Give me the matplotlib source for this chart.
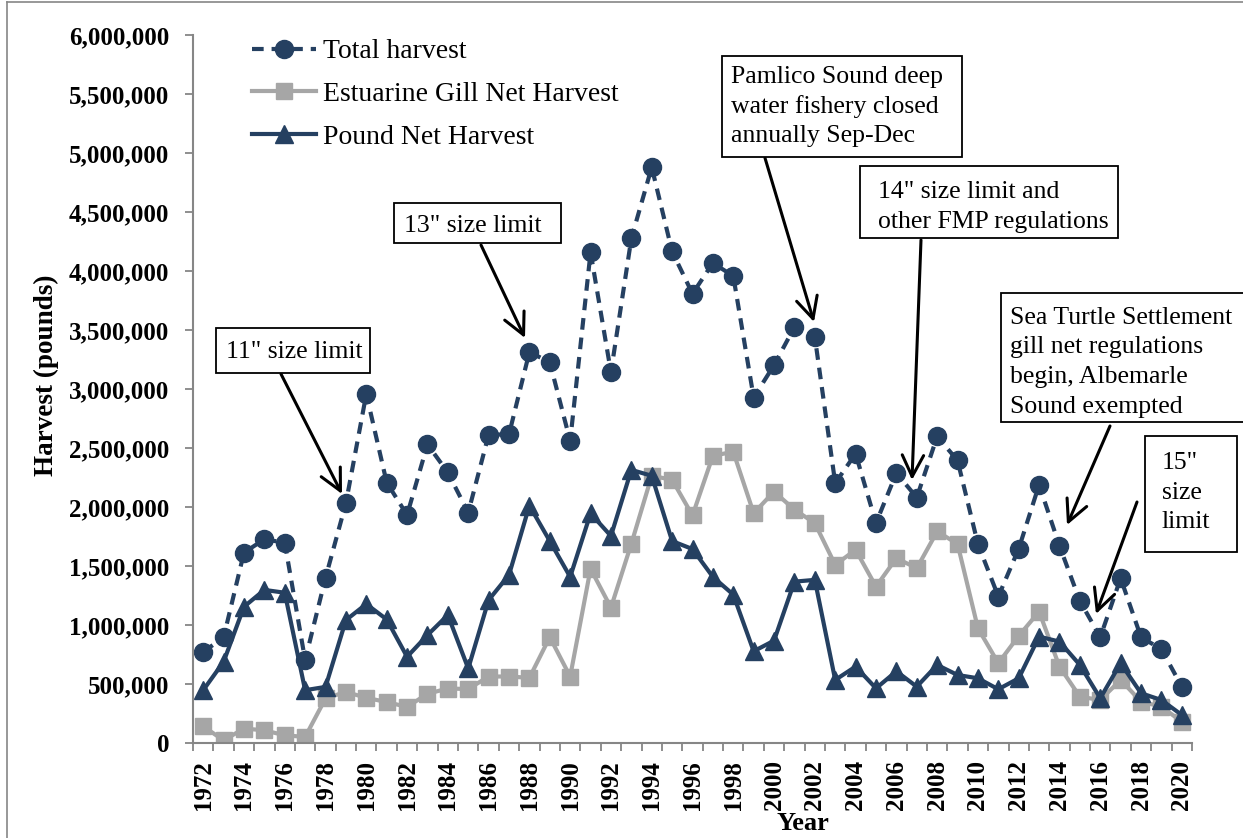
import matplotlib
matplotlib.use("Agg")
import matplotlib.pyplot as plt
from matplotlib.ticker import FuncFormatter, MultipleLocator, FixedLocator
from matplotlib.patches import Rectangle
from matplotlib.lines import Line2D

plt.rcParams['font.family'] = ['Liberation Serif', 'DejaVu Serif']

# harvest in pounds, 1972-2020
years = list(range(1972, 2021))
total = [775000, 897000, 1616000, 1729000, 1700000, 705000, 1403000, 2035000, 2960000, 2210000,
         1935000, 2533000, 2295000, 1955000, 2615000, 2618000, 3316000, 3229000, 2562000, 4161000,
         3145000, 4278000, 4882000, 4168000, 3810000, 4070000, 3960000, 2930000, 3205000, 3527000,
         3443000, 2205000, 2454000, 1866000, 2290000, 2083000, 2600000, 2397000, 1688000, 1244000,
         1648000, 2191000, 1673000, 1207000, 899000, 1399000, 899000, 797000, 480000]
gill = [144000, 25000, 125000, 110000, 68000, 54000, 380000, 436000, 385000, 350000,
        308000, 420000, 464000, 460000, 566000, 566000, 555000, 900000, 566000, 1479000,
        1150000, 1691000, 2267000, 2233000, 1931000, 2437000, 2470000, 1950000, 2133000, 1980000,
        1866000, 1512000, 1640000, 1328000, 1569000, 1484000, 1795000, 1690000, 975000, 679000,
        910000, 1116000, 650000, 395000, 367000, 537000, 353000, 310000, 183000]
pound = [450000, 690000, 1157000, 1300000, 1276000, 450000, 478000, 1044000, 1180000, 1050000,
         733000, 917000, 1087000, 634000, 1214000, 1427000, 2015000, 1714000, 1410000, 1948000,
         1757000, 2317000, 2267000, 1714000, 1646000, 1410000, 1260000, 780000, 870000, 1370000,
         1385000, 537000, 650000, 466000, 610000, 480000, 664000, 579000, 551000, 458000,
         551000, 904000, 862000, 664000, 382000, 679000, 424000, 367000, 240000]

series_names = ['Total harvest', 'Estuarine Gill Net Harvest', 'Pound Net Harvest']

notes = ['11" size limit', '13" size limit',
         'Pamlico Sound deep\nwater fishery closed\nannually Sep-Dec',
         '14" size limit and\nother FMP regulations',
         'Sea Turtle Settlement\ngill net regulations\nbegin, Albemarle\nSound exempted',
         '15"\nsize\nlimit']

NAVY = '#254061'
GRAY = '#A6A6A6'
AXGRAY = '#868686'

W, H = 1243, 838
fig = plt.figure(figsize=(W / 100, H / 100), dpi=100)
ax = fig.add_axes([193 / W, 1 - 743.3 / H, 999 / W, 708 / H])

x = list(range(len(years)))
ax.plot(x, total, color=NAVY, lw=3, linestyle=(0, (2.8, 1.9)), marker='o', ms=13,
        label=series_names[0])
ax.plot(x, gill, color=GRAY, lw=3, marker='s', ms=12, label=series_names[1])
ax.plot(x, pound, color=NAVY, lw=3, marker='^', ms=13, label=series_names[2])

ax.set_xlim(-0.5, len(years) - 0.5)
ax.set_ylim(0, 6000000)
ax.yaxis.set_major_locator(MultipleLocator(500000))
ax.yaxis.set_major_formatter(FuncFormatter(lambda v, p: f'{int(v):,}'))

ax.xaxis.set_major_locator(FixedLocator(x[::2]))
ax.set_xticklabels([str(y) for y in years[::2]], rotation=90, fontweight='bold', fontsize=18)
ax.xaxis.set_minor_locator(FixedLocator([i - 0.5 for i in range(len(years) + 1)]))
ax.tick_params(axis='x', which='major', length=0, pad=12)
ax.tick_params(axis='x', which='minor', length=6, width=1.3, color=AXGRAY, direction='out')
ax.tick_params(axis='y', length=6, width=1.3, color=AXGRAY, pad=11, labelsize=18)
for lab in ax.get_yticklabels():
    lab.set_fontweight('bold')

for s in ['top', 'right']:
    ax.spines[s].set_visible(False)
for s in ['left', 'bottom']:
    ax.spines[s].set_color(AXGRAY)
    ax.spines[s].set_linewidth(1.5)

fig.text(46 / W, 1 - 375 / H, 'Harvest (pounds)', rotation=90, ha='center', va='center',
         fontsize=19.5, fontweight='bold')
fig.text(803 / W, 1 - 823 / H, 'Year', ha='center', va='center', fontsize=19, fontweight='bold')

ax.legend(loc='upper left', bbox_to_anchor=(238 / W, 1 - 25 / H), bbox_transform=fig.transFigure,
          frameon=False, fontsize=20, borderpad=0, labelspacing=0.62, handlelength=2.3,
          handletextpad=0.25, numpoints=1)


def px(xp, yp):
    return (xp, H - yp)


# annotation boxes: (left, top, right, bottom), text left, first line centre
boxes = [(216, 328, 370, 373, 226, 352),
         (394, 203, 561, 243, 404, 226),
         (722, 56, 962, 157, 731, 77),
         (860, 166, 1118, 238, 878, 192),
         (1001, 293, 1260, 422, 1010, 318),
         (1145, 436, 1237, 552, 1162, 463)]
line_h = 29.5
for (l, t, r, b, tx, ty), txt in zip(boxes, notes):
    fig.patches.append(Rectangle((l / W, 1 - b / H), (r - l) / W, (b - t) / H,
                                 transform=fig.transFigure, facecolor='white',
                                 edgecolor='black', lw=1.3, zorder=5))
    for k, line in enumerate(txt.split('\n')):
        fig.text(tx / W, 1 - (ty + k * line_h) / H, line, ha='left', va='center',
                 fontsize=18.5, zorder=6)

arrows = [((281, 374), (342, 494)),
          ((481, 245), (525, 338)),
          ((765, 158), (814, 322)),
          ((921, 240), (912, 480)),
          ((1110, 426), (1067, 525)),
          ((1137, 502), (1096, 614))]
for start, tip in arrows:
    ax.annotate('', xy=px(*tip), xytext=px(*start), xycoords='figure pixels',
                textcoords='figure pixels',
                arrowprops=dict(arrowstyle='->,head_length=0.7,head_width=0.35',
                                color='black', lw=2.2, mutation_scale=22,
                                shrinkA=0, shrinkB=0))

# outer chart border
fig.lines.append(Line2D([7 / W, 1], [1 - 2 / H, 1 - 2 / H], transform=fig.transFigure,
                        color=AXGRAY, lw=1.2))
fig.lines.append(Line2D([7 / W, 7 / W], [0, 1 - 2 / H], transform=fig.transFigure,
                        color=AXGRAY, lw=1.2))

fig.savefig('out.png', dpi=100)
